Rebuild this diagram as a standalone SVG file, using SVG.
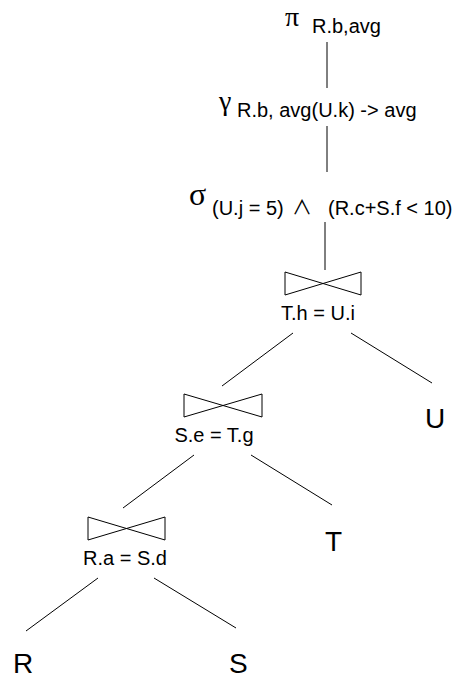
<svg xmlns="http://www.w3.org/2000/svg" width="458" height="679" viewBox="0 0 458 679">
<style>
.t{font-family:"Liberation Sans",Arial,sans-serif;font-size:20px;fill:#000}
.g{font-family:"Liberation Serif","Times New Roman",serif;fill:#000}
.leaf{font-family:"Liberation Sans",Arial,sans-serif;font-size:28px;fill:#000}
.bt{fill:none;stroke:#000;stroke-width:1}
.e{stroke:#000;stroke-width:1;fill:none}
</style>
<rect width="458" height="679" fill="#fff"/>
<g id="pi">
<text class="g" x="285" y="26" font-size="28">π</text>
<text class="t" x="312" y="33">R.b,avg</text>
</g>
<g id="gamma">
<text class="g" x="219" y="110" font-size="28">γ</text>
<text class="t" x="237" y="117">R.b, avg(U.k) -&gt; avg</text>
</g>
<g id="sigma">
<text class="g" x="189" y="205" font-size="32">σ</text>
<text class="t" y="215"><tspan x="292" font-family="Noto Sans CJK SC, sans-serif" font-weight="400" font-size="20">∧</tspan><tspan x="212">(U.j = 5)</tspan><tspan x="328">(R.c+S.f &lt; 10)</tspan></text>
</g>
<g id="join1">
<path class="bt" d="M285,272 L361,295 L361,272 L285,295 Z"/>
<text class="t" x="318" y="320" text-anchor="middle">T.h = U.i</text>
</g>
<g id="join2">
<path class="bt" d="M184,394 L262,417 L262,394 L184,417 Z"/>
<text class="t" x="214" y="442" text-anchor="middle">S.e = T.g</text>
</g>
<g id="join3">
<path class="bt" d="M88,517 L165,540 L165,517 L88,540 Z"/>
<text class="t" x="125" y="565" text-anchor="middle">R.a = S.d</text>
</g>
<g id="U"><text class="leaf" x="425" y="428">U</text></g>
<g id="T"><text class="leaf" x="325" y="551">T</text></g>
<g id="R"><text class="leaf" x="13" y="673">R</text></g>
<g id="S"><text class="leaf" x="229" y="673">S</text></g>
<g id="edges">
<line class="e" x1="327" y1="42" x2="327" y2="88"/>
<line class="e" x1="327" y1="126" x2="327" y2="172"/>
<line class="e" x1="325" y1="222" x2="325" y2="270"/>
<line class="e" x1="293" y1="333" x2="222" y2="386"/>
<line class="e" x1="351" y1="333" x2="432" y2="383"/>
<line class="e" x1="194" y1="455" x2="123" y2="508"/>
<line class="e" x1="251" y1="455" x2="332" y2="505"/>
<line class="e" x1="98" y1="578" x2="26" y2="631"/>
<line class="e" x1="154" y1="578" x2="236" y2="628"/>
</g>
</svg>
